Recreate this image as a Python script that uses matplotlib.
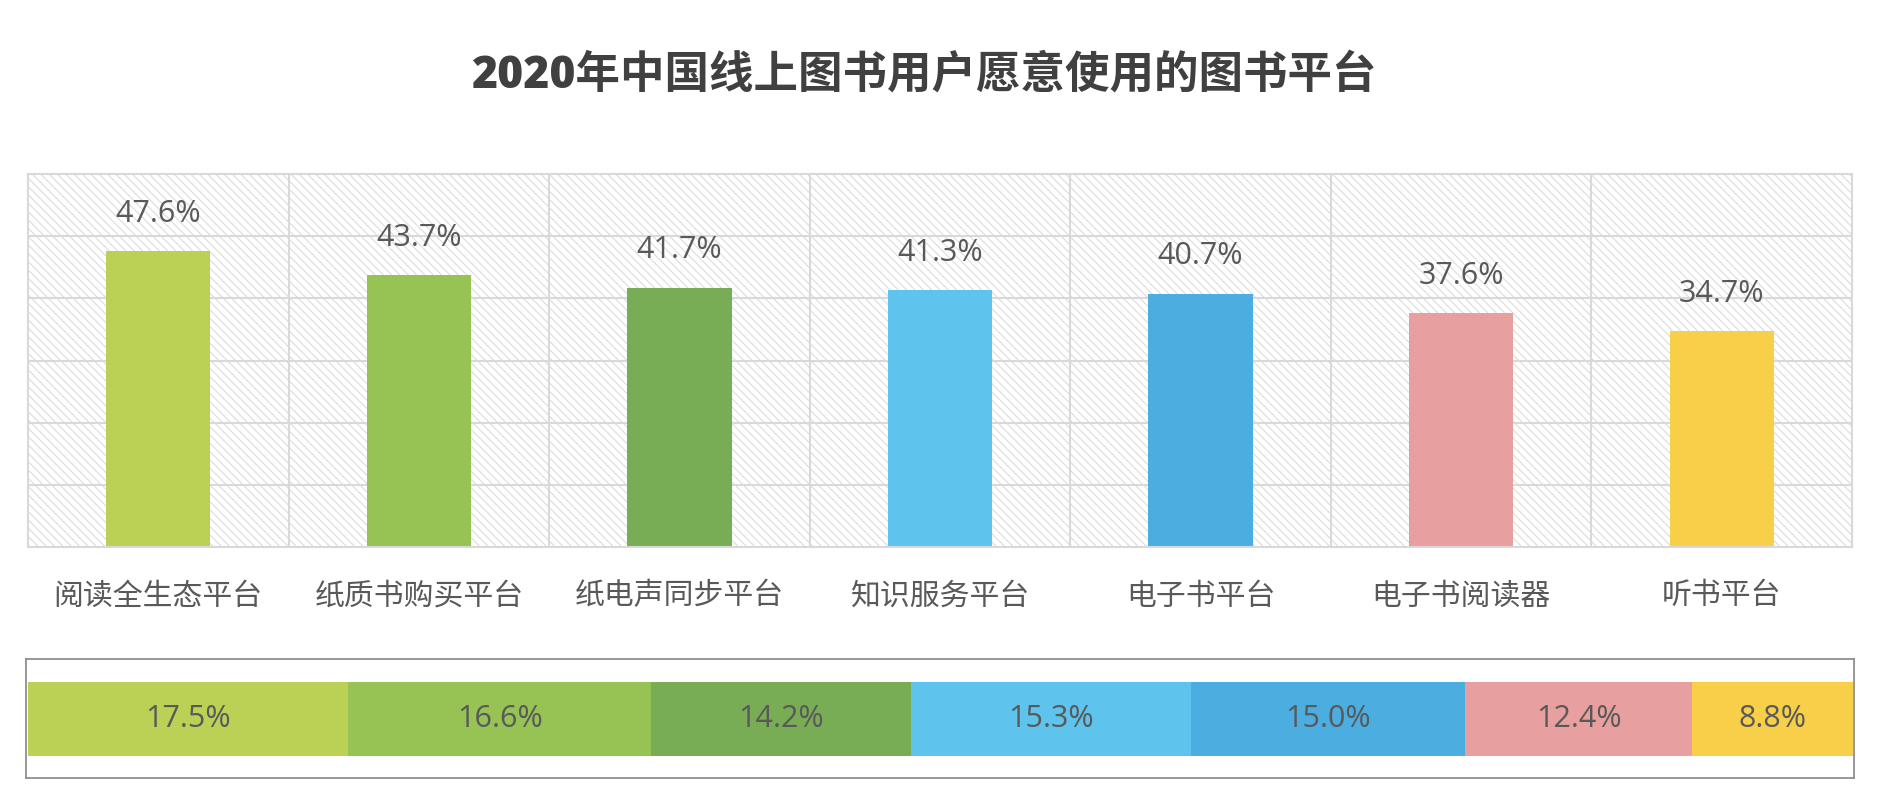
import matplotlib
matplotlib.use("Agg")
import matplotlib.pyplot as plt
from matplotlib.patches import Rectangle
import numpy as np

plt.rcParams["font.family"] = ["Open Sans", "Noto Sans CJK SC", "DejaVu Sans"]
plt.rcParams["hatch.linewidth"] = 0.8

title = "2020年中国线上图书用户愿意使用的图书平台"
categories = ["阅读全生态平台", "纸质书购买平台", "纸电声同步平台", "知识服务平台",
              "电子书平台", "电子书阅读器", "听书平台"]
willing = [47.6, 43.7, 41.7, 41.3, 40.7, 37.6, 34.7]
share = [17.5, 16.6, 14.2, 15.3, 15.0, 12.4, 8.8]
colors = ["#bbd155", "#97c355", "#78ad55", "#5ec4ee", "#4badE0", "#e89f9f", "#f7cf48"]

TEXT = "#595959"
GRID = "#d9d9d9"

fig = plt.figure(figsize=(18.8, 8.08), dpi=100)

# top chart
ax = fig.add_axes([28 / 1880, 1 - 547 / 808, 1824 / 1880, 373 / 808])
x = np.arange(len(categories))
ax.set_xlim(-0.5, len(categories) - 0.5)
ax.set_ylim(0, 60)
# hatched background
ax.add_patch(Rectangle((0, 0), 1, 1, transform=ax.transAxes, facecolor="white",
                       edgecolor="#dcdcdc", linewidth=0, hatch="\\\\\\\\", zorder=0))
for yv in np.arange(10, 60, 10):
    ax.axhline(yv, color=GRID, lw=1.5, zorder=1)
for xv in np.arange(0.5, len(categories) - 0.5, 1):
    ax.axvline(xv, color=GRID, lw=1.5, zorder=1)
for s in ax.spines.values():
    s.set_color(GRID)
    s.set_linewidth(1.5)

ax.bar(x, willing, width=0.4, color=colors, zorder=2)
for xi, v in zip(x, willing):
    ax.annotate(f"{v}%", (xi, v), xytext=(0, 27), textcoords="offset points",
                ha="center", va="center", fontsize=22, color=TEXT)

for xi, name in zip(x, categories):
    ax.annotate(name, (xi, 0), xycoords=("data", "axes fraction"), xytext=(0, -36),
                textcoords="offset points", ha="center", va="center",
                fontsize=21.5, color=TEXT)
ax.set_xticks([])
ax.set_yticks([])

# bottom stacked bar
ax2 = fig.add_axes([26 / 1880, 1 - 778 / 808, 1828 / 1880, 119 / 808])
total = sum(share)
ax2.set_xlim(-0.1, total + 0.05)
ax2.set_ylim(0, 1)
left = 0
for v, c in zip(share, colors):
    ax2.barh(0.496, v, left=left, height=0.622, color=c, zorder=2)
    ax2.text(left + v / 2, 0.496, f"{v}%", ha="center", va="center",
             fontsize=22, color=TEXT, zorder=3)
    left += v
for s in ax2.spines.values():
    s.set_color("#8f8f8f")
    s.set_linewidth(1.3)
ax2.set_xticks([])
ax2.set_yticks([])

fig.text(925 / 1880, 1 - 76 / 808, title, ha="center", va="center",
         fontsize=32, fontweight="heavy", color="#404040")

fig.savefig("out.png", dpi=100)
